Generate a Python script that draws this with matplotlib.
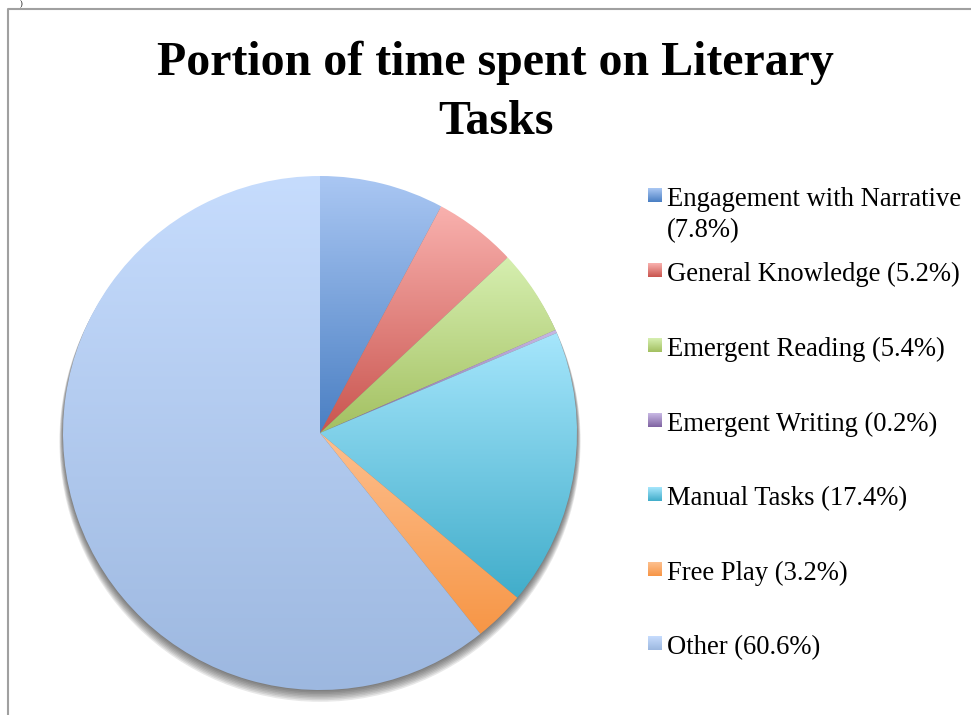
import numpy as np
import matplotlib
matplotlib.use('Agg')
import matplotlib.pyplot as plt
from matplotlib.colors import LinearSegmentedColormap
from matplotlib.patches import Circle

W, H = 971, 715

title_lines = ['Portion of time spent on Literary', 'Tasks']
labels = ['Engagement with Narrative', 'General Knowledge', 'Emergent Reading',
          'Emergent Writing', 'Manual Tasks', 'Free Play', 'Other']
shares = [7.8, 5.2, 5.4, 0.2, 17.4, 3.2, 60.6]
# (top colour, bottom colour) of the gradient in each slice
tops = ['#aac7f3', '#f9b1ae', '#d6efb0', '#c8b8e4', '#a6e6fc', '#fdbf8e', '#c6dcfd']
bottoms = ['#4a7fc3', '#c9554f', '#a3c061', '#8064a2', '#41adca', '#f79646', '#9db8e0']

serif = ['Liberation Serif', 'DejaVu Serif']

fig = plt.figure(figsize=(W / 100, H / 100), dpi=100)

# pie, centre at (320, 433) px, radius 257 px
cx, cy, r = 320, 433, 257
ax = fig.add_axes([(cx - r) / W, (H - cy - r) / H, 2 * r / W, 2 * r / H])

# soft shadow, mostly under the pie
for i in range(8):
    ax.add_patch(Circle((0, -0.004 * (i + 1)), 1.0 + 0.002 * i, color='#303030',
                        alpha=0.11, lw=0, clip_on=False, zorder=0))

wedges, _ = ax.pie(shares, startangle=90, counterclock=False, radius=1,
                   wedgeprops=dict(lw=0))
ax.set_aspect('equal')
ax.axis('off')

grad = np.linspace(1, 0, 256).reshape(-1, 1)
for w, c0, c1 in zip(wedges, tops, bottoms):
    w.set_alpha(0)
    t = np.radians(np.linspace(w.theta1, w.theta2, 200))
    ys = np.concatenate([[0], np.sin(t)])
    cmap = LinearSegmentedColormap.from_list('g', [c1, c0])
    im = ax.imshow(grad, cmap=cmap, extent=(-1, 1, ys.min(), ys.max()),
                   aspect='auto', zorder=2, interpolation='bilinear')
    im.set_clip_path(w)
ax.set_xlim(-1, 1)
ax.set_ylim(-1, 1)

# overlay in pixel units for title, legend and frame
ov = fig.add_axes([0, 0, 1, 1])
ov.axis('off')
ov.patch.set_alpha(0)

ov.plot([7.5, 7.5, W], [H, 8.5, 8.5], color='#a0a0a0', lw=1.5)
ov.text(20, 0, ')', fontsize=6, family=serif, va='top', color='black')

ov.text(495, 75, title_lines[0], fontsize=34.5, fontweight='bold', family=serif,
        ha='center', va='baseline')
ov.text(496, 134, title_lines[1], fontsize=34.5, fontweight='bold', family=serif,
        ha='center', va='baseline')

baselines = [206, 281, 356, 431, 505, 580, 654]
sq = np.linspace(0, 1, 32).reshape(-1, 1)
for lab, val, yb, c0, c1 in zip(labels, shares, baselines, tops, bottoms):
    cmap = LinearSegmentedColormap.from_list('g', [c0, c1])
    ov.imshow(sq, cmap=cmap, extent=(648, 662, yb - 4, yb - 18), aspect='auto',
              interpolation='bilinear')
    if lab.startswith('Engagement'):
        ov.text(667, yb, lab, fontsize=19.2, family=serif, va='baseline')
        ov.text(667, yb + 31, f'({val}%)', fontsize=19.2, family=serif,
                va='baseline')
    else:
        ov.text(667, yb, f'{lab} ({val}%)', fontsize=19.2, family=serif,
                va='baseline')
ov.set_xlim(0, W)
ov.set_ylim(H, 0)

fig.savefig('out.png', dpi=100)
